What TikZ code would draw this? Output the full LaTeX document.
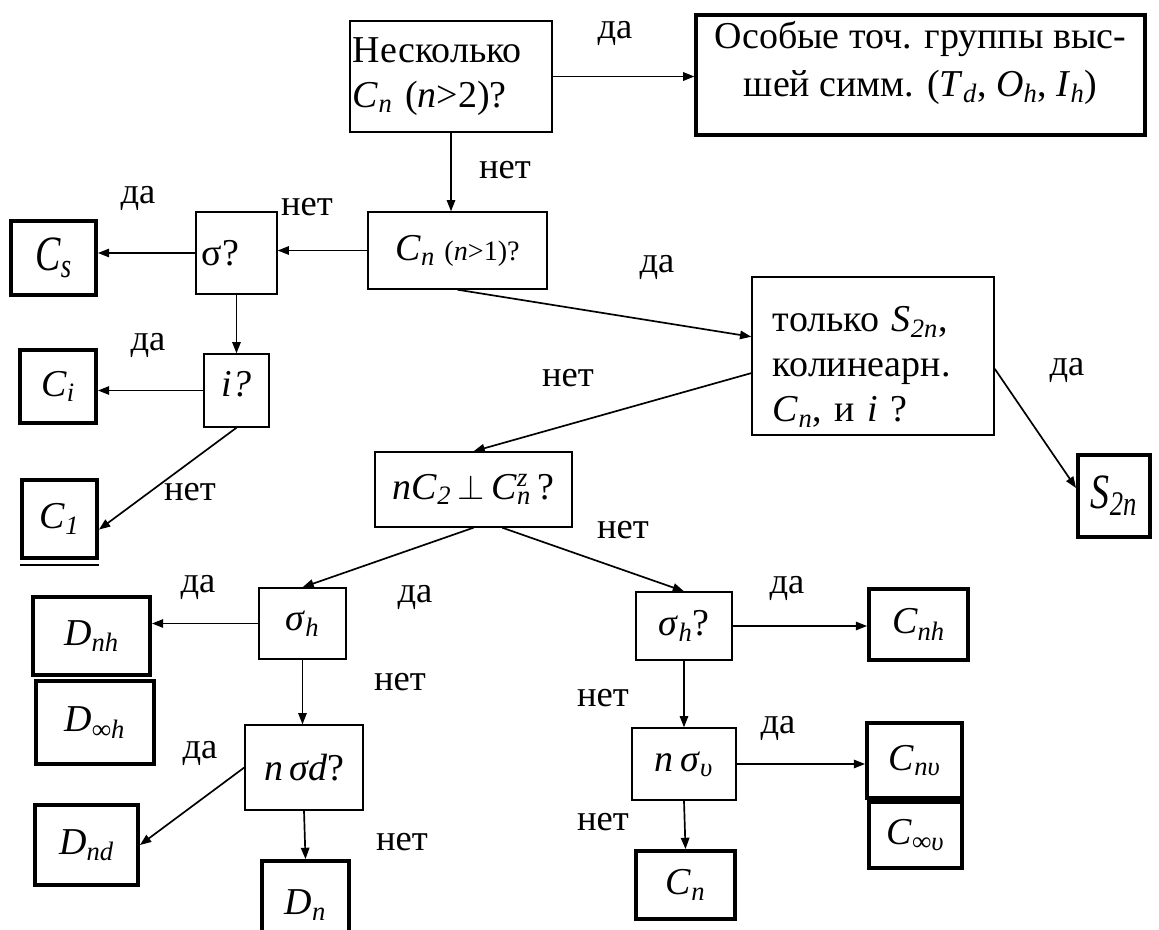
\documentclass[tikz,border=0pt]{standalone}
\usepackage{fontspec}
\setmainfont{Liberation Serif}
\usetikzlibrary{arrows.meta}

% единица: один пиксель образца
\def\px{0.025cm}
\newcommand{\gr}[2]{\textit{#1}\textsubscript{\textit{#2}}}

\begin{document}
\begin{tikzpicture}[x=\px, y=-\px,
  ask/.style={draw, line width=1pt, inner sep=2pt, font=\fontsize{27}{32}\selectfont},
  grp/.style={draw, line width=2.8pt, inner sep=0pt, font=\fontsize{27}{32}\selectfont},
  lbl/.style={inner sep=0pt, font=\fontsize{26}{30}\selectfont},
  arr/.style={-{Triangle[length=8pt,width=6pt]}, line width=1.2pt}]

\useasboundingbox (0,0) rectangle (1159,929);
\clip (0,0) rectangle (1159,929);

% Вопросы
\node[ask, minimum width=202*\px, minimum height=111*\px, align=left, text width=4.9cm, inner xsep=0.075cm] (q1) at (451,76.5)
  {Несколько\\\gr{C}{n} (\textit{n}>2)?};
\node[grp, line width=2.2pt, minimum width=449*\px, minimum height=120*\px] (hi) at (920.5,75) {};
\node[lbl, align=center, font=\fontsize{27}{34}\selectfont] (hi-t) at (920.5,63)
  {Особые точ. группы выс-\\шей симм. (\gr{T}{d}, \gr{O}{h}, \gr{I}{h})};
\node[ask, minimum width=179*\px, minimum height=77*\px] (q2) at (457.5,250.5)
  {\gr{C}{n} {\fontsize{20}{24}\selectfont(\textit{n}>1)?}};
\node[ask, minimum width=81*\px, minimum height=82*\px, align=left, text width=1.725cm, inner xsep=0.15cm] (sig) at (236.5,253) {σ?};
\node[ask, minimum width=65*\px, minimum height=73*\px] (inv) at (236.5,390.5) {\raisebox{10pt}{\textit{i?}}};
\node[ask, minimum width=242*\px, minimum height=158*\px, align=left, text width=5cm, inner xsep=0.525cm] (only) at (873,356)
  {\rule{0pt}{1.25em}только \gr{S}{2n},\\колинеарн.\\\gr{C}{n}, и \textit{i} ?};
\node[ask, minimum width=197*\px, minimum height=75*\px] (nC2) at (473.5,489.5)
  {\textit{n}\gr{C}{2}\,$\perp$\,\textit{C}\rlap{\textsuperscript{\textit{z}}}\textsubscript{\textit{n}}\,?};
\node[ask, minimum width=87*\px, minimum height=71*\px] (sh) at (302.5,623.5) {\gr{σ}{h}};
\node[ask, minimum width=118*\px, minimum height=85*\px] (nsd) at (304,767.5) {\textit{n\,σd}?};
\node[ask, minimum width=96*\px, minimum height=68*\px] (sh2) at (684,626) {\gr{σ}{h}?};
\node[ask, minimum width=104*\px, minimum height=72*\px] (nsv) at (684,764) {\textit{n}\,\gr{σ}{υ}};

% Группы
\node[grp, minimum width=85*\px, minimum height=74*\px] (Cs) at (53.5,258) {\scalebox{1}[1.3]{\gr{C}{s}}};
\node[grp, minimum width=76*\px, minimum height=73*\px] (Ci) at (58,386.5) {\gr{C}{i}\hspace{10pt}};
\node[grp, minimum width=75*\px, minimum height=78*\px] (C1) at (59.5,519) {\gr{C}{1}};
\node[grp, minimum width=72*\px, minimum height=82*\px] (S2n) at (1114,496) {\scalebox{1}[1.3]{\gr{S}{2n}}};
\node[grp, minimum width=117*\px, minimum height=78*\px] (Dnh) at (91.5,636) {\gr{D}{nh}\hspace{8pt}};
\node[grp, minimum width=118*\px, minimum height=83*\px] (Dinf) at (95,722.5) {\gr{D}{∞h}\hspace{6pt}};
\node[grp, minimum width=103*\px, minimum height=80*\px] (Dnd) at (86.5,845) {\gr{D}{nd}};
\node[grp, minimum width=87*\px, minimum height=88*\px] (Dn) at (305.5,905) {\gr{D}{n}};
\node[grp, minimum width=99*\px, minimum height=71*\px] (Cnh) at (918.5,624.5) {\gr{C}{nh}};
\node[grp, minimum width=95*\px, minimum height=75*\px] (Cnv) at (914.5,760.5) {\gr{C}{nυ}};
\node[grp, minimum width=93*\px, minimum height=66*\px] (Cinf) at (915.5,835) {\gr{C}{∞υ}};
\node[grp, minimum width=99*\px, minimum height=68*\px] (Cn) at (685.5,885) {\gr{C}{n}};

% двойная черта под C1
\draw[line width=1pt] ([yshift=-5*\px]C1.south west) -- ([yshift=-5*\px]C1.south east);

% Стрелки
\draw[arr] (q1.east) -- (q1.east -| hi.west);
\draw[arr] (q1.south) -- (q1.south |- q2.north);
\draw[arr] (q2.west) -- (q2.west -| sig.east);
\draw[arr] (sig.west) -- (sig.west -| Cs.east);
\draw[arr] (sig.south) -- (inv.north);
\draw[arr] (inv.west) -- (inv.west -| Ci.east);
\draw[arr] (inv.south) -- (C1.-15);
\draw[arr] (q2.south) -- (only.171);
\draw[arr] (only.188) -- (nC2.north);
\draw[arr] (only.-6) -- (S2n.168);
\draw[arr] (nC2.south) -- (sh.north);
\draw[arr] (nC2.-53) -- (sh2.north);
\draw[arr] (sh.west) -- (sh.west -| Dnh.east);
\draw[arr] (sh.south) -- (sh.south |- nsd.north);
\draw[arr] (nsd.west) -- (Dnd.east);
\draw[arr] (nsd.south) -- (Dn.north);
\draw[arr] (sh2.east) -- (sh2.east -| Cnh.west);
\draw[arr] (sh2.south) -- (nsv.north);
\draw[arr] (nsv.east) -- (nsv.east -| Cnv.west);
\draw[arr] (nsv.south) -- (Cn.north);

% Подписи да / нет
\node[lbl] (y1) at (615,33) {да};
\node[lbl] (n1) at (505,170) {нет};
\node[lbl] (y2) at (138,198) {да};
\node[lbl] (n2) at (307,207) {нет};
\node[lbl] (y3) at (657,267) {да};
\node[lbl] (y4) at (148,345) {да};
\node[lbl] (n3) at (568,378) {нет};
\node[lbl] (y5) at (1067,370) {да};
\node[lbl] (n4) at (190,492) {нет};
\node[lbl] (n5) at (623,530) {нет};
\node[lbl] (y6) at (198,587) {да};
\node[lbl] (y7) at (415,597) {да};
\node[lbl] (y8) at (787,588) {да};
\node[lbl] (n6) at (400,682) {нет};
\node[lbl] (n7) at (603,698) {нет};
\node[lbl] (y9) at (778,728) {да};
\node[lbl] (y10) at (200,753) {да};
\node[lbl] (n8) at (402,842) {нет};
\node[lbl] (n9) at (603,822) {нет};
\end{tikzpicture}
\end{document}
